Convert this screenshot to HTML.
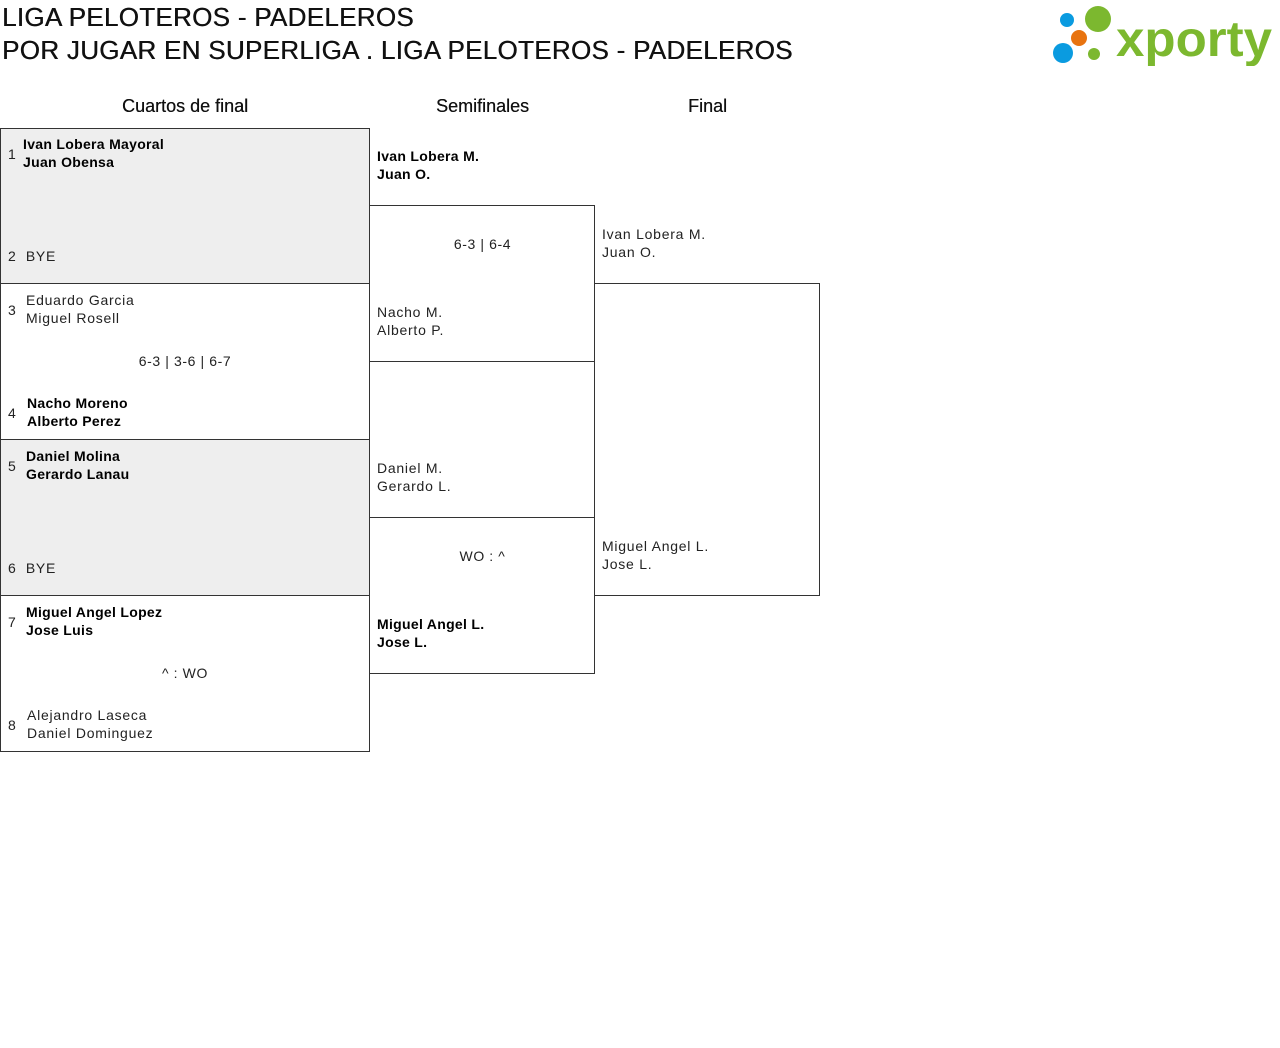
<!DOCTYPE html>
<html><head><meta charset="utf-8"><style>
*{margin:0;padding:0;box-sizing:border-box}
body{width:1280px;height:1048px;background:#fff;position:relative;font-family:"Liberation Sans",sans-serif;color:#222;overflow:hidden}
.a{position:absolute;white-space:nowrap}
.t{font-size:26px;font-weight:bold;color:#111;left:2px;letter-spacing:0.3px;-webkit-text-stroke:0;font-weight:500;text-shadow:0.4px 0 0 #111}
.h{font-size:18px;color:#111;text-align:center;text-shadow:0.3px 0 0 #111}
.b{position:absolute;border:1px solid #333}
.g{background:#eee}
.n{font-size:14px;line-height:18px;letter-spacing:0.75px;color:#222}
.w{color:#000;font-weight:bold;letter-spacing:0.3px;}
.s{font-size:14px;letter-spacing:0.6px;text-align:center}
</style></head><body>
<div class="a t" style="top:2px">LIGA PELOTEROS - PADELEROS</div>
<div class="a t" style="top:35px">POR JUGAR EN SUPERLIGA . LIGA PELOTEROS - PADELEROS</div>
<svg class="a" style="left:1050px;top:4px" width="226" height="62">
<circle cx="17" cy="16" r="7" fill="#0a9be0"/>
<circle cx="48" cy="15" r="13" fill="#7cb82f"/>
<circle cx="29" cy="34" r="8" fill="#e8730f"/>
<circle cx="13" cy="49" r="10" fill="#0a9be0"/>
<circle cx="44" cy="50" r="6" fill="#7cb82f"/>
<text x="66" y="52" font-family="Liberation Sans,sans-serif" font-weight="bold" font-size="50" fill="#7cb82f" textLength="156" lengthAdjust="spacingAndGlyphs">xporty</text>
</svg>
<div class="a h" style="left:0;width:370px;top:96px">Cuartos de final</div>
<div class="a h" style="left:370px;width:225px;top:96px">Semifinales</div>
<div class="a h" style="left:595px;width:225px;top:96px">Final</div>

<div class="b g" style="left:0;top:128px;width:370px;height:156px"></div>
<div class="b" style="left:0;top:283px;width:370px;height:157px"></div>
<div class="b g" style="left:0;top:439px;width:370px;height:157px"></div>
<div class="b" style="left:0;top:595px;width:370px;height:157px"></div>
<div class="b" style="left:369px;top:205px;width:226px;height:157px"></div>
<div class="b" style="left:369px;top:517px;width:226px;height:157px"></div>
<div class="b" style="left:594px;top:283px;width:226px;height:313px"></div>

<div class="a n" style="left:8px;top:145px">1</div>
<div class="a n w" style="left:23px;top:135px">Ivan Lobera Mayoral<br>Juan Obensa</div>
<div class="a n" style="left:8px;top:247px">2&nbsp;&nbsp;BYE</div>

<div class="a n" style="left:8px;top:301px">3</div>
<div class="a n" style="left:26px;top:291px">Eduardo Garcia<br>Miguel Rosell</div>
<div class="a s" style="left:0;width:370px;top:353px">6-3 | 3-6 | 6-7</div>
<div class="a n" style="left:8px;top:404px">4</div>
<div class="a n w" style="left:27px;top:394px">Nacho Moreno<br>Alberto Perez</div>

<div class="a n" style="left:8px;top:457px">5</div>
<div class="a n w" style="left:26px;top:447px">Daniel Molina<br>Gerardo Lanau</div>
<div class="a n" style="left:8px;top:559px">6&nbsp;&nbsp;BYE</div>

<div class="a n" style="left:8px;top:613px">7</div>
<div class="a n w" style="left:26px;top:603px">Miguel Angel Lopez<br>Jose Luis</div>
<div class="a s" style="left:0;width:370px;top:665px">^ : WO</div>
<div class="a n" style="left:8px;top:716px">8</div>
<div class="a n" style="left:27px;top:706px">Alejandro Laseca<br>Daniel Dominguez</div>

<div class="a n w" style="left:377px;top:147px">Ivan Lobera M.<br>Juan O.</div>
<div class="a s" style="left:370px;width:225px;top:236px">6-3 | 6-4</div>
<div class="a n" style="left:377px;top:303px">Nacho M.<br>Alberto P.</div>
<div class="a n" style="left:377px;top:459px">Daniel M.<br>Gerardo L.</div>
<div class="a s" style="left:370px;width:225px;top:548px">WO : ^</div>
<div class="a n w" style="left:377px;top:615px">Miguel Angel L.<br>Jose L.</div>

<div class="a n" style="left:602px;top:225px">Ivan Lobera M.<br>Juan O.</div>
<div class="a n" style="left:602px;top:537px">Miguel Angel L.<br>Jose L.</div>
</body></html>
